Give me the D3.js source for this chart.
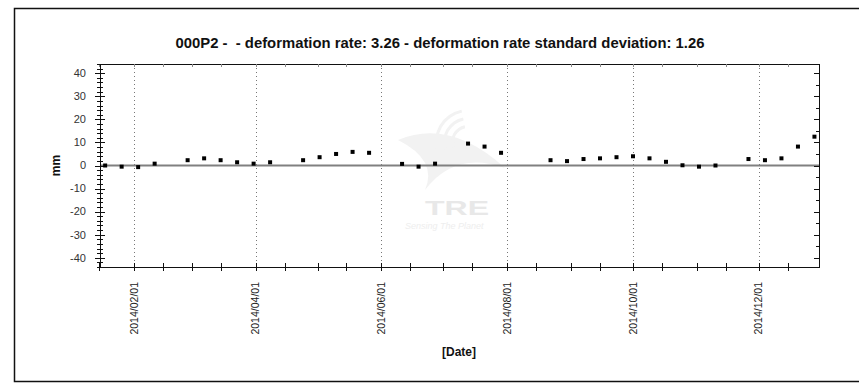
<!DOCTYPE html>
<html>
<head>
<meta charset="utf-8">
<script src="https://cdn.jsdelivr.net/npm/d3@7"></script>
<style>
  body { margin: 0; background: #fff; }
  svg { display: block; font-family: "Liberation Sans", Arial, sans-serif; }
  .title { white-space: pre; }
</style>
</head>
<body>
<svg id="chart" width="859" height="383"></svg>
<script>
// Data
var dates = ["2014-01-18","2014-01-26","2014-02-03","2014-02-11","2014-02-27","2014-03-07",
	"2014-03-15","2014-03-23","2014-03-31","2014-04-08","2014-04-24","2014-05-02",
	"2014-05-10","2014-05-18","2014-05-26","2014-06-11","2014-06-19","2014-06-27",
	"2014-07-13","2014-07-21","2014-07-29","2014-08-22","2014-08-30","2014-09-07",
	"2014-09-15","2014-09-23","2014-10-01","2014-10-09","2014-10-17","2014-10-25",
	"2014-11-02","2014-11-10","2014-11-26","2014-12-04","2014-12-12","2014-12-20","2014-12-28"];
var values = [0.0, -0.5, -0.7, 0.8, 2.3, 3.1,
	2.3, 1.4, 0.8, 1.4, 2.3, 3.6,
	5.0, 5.9, 5.5, 0.7, -0.5, 0.8,
	9.5, 8.2, 5.5, 2.3, 1.9, 2.8,
	3.1, 3.6, 4.0, 3.1, 1.6, 0.1,
	-0.5, 0.0, 2.8, 2.3, 3.1, 8.2, 12.5];

var majorDates = ["2014-02-01","2014-04-01","2014-06-01","2014-08-01","2014-10-01","2014-12-01"];
var minorDates = ["2014-01-15","2014-02-15","2014-03-01","2014-03-15","2014-04-15","2014-05-01",
	"2014-05-15","2014-06-15","2014-07-01","2014-07-15","2014-08-15","2014-09-01",
	"2014-09-15","2014-10-15","2014-11-01","2014-11-15","2014-12-15"];
var yMajor = [-40, -30, -20, -10, 0, 10, 20, 30, 40];
var yMinor = d3.range(-44, 45, 2);
var yMinorRight = d3.range(-40, 45, 5);

var title = "000P2 -  - deformation rate: 3.26 - deformation rate standard deviation: 1.26";

var parse = d3.utcParse("%Y-%m-%d");
var fmt = d3.utcFormat("%Y/%m/%d");

var svg = d3.select("#chart");

// Frame
svg.append("rect")
	.attr("x", 14.5).attr("y", 8.5)
	.attr("width", 860).attr("height", 373)
	.attr("fill", "none").attr("stroke", "#111").attr("stroke-width", 1.5);

// plot area bounds (not named top/left: window.top is reserved)
var pL = 100, pR = 819, pT = 64, pB = 267;

var x = d3.scaleUtc()
	.domain([new Date(Date.UTC(2014, 0, 15, 12)), new Date(Date.UTC(2014, 11, 30, 5))])
	.range([pL, pR]);
var y = d3.scaleLinear().domain([-44, 44]).range([pB, pT]);

// Watermark (TRE logo, approximate)
var wm = svg.append("g").attr("fill", "#f2f2f2").attr("stroke", "none");
wm.append("path")
	.attr("d", "M398,140 Q450,118 505,168 Q455,150 425,190 Q438,160 398,140 Z");
[14, 22, 30].forEach(function(r) {
	wm.append("path")
		.attr("d", d3.arc()({ innerRadius: r, outerRadius: r + 3, startAngle: -1.9, endAngle: -0.2 }))
		.attr("transform", "translate(" + 468 + "," + 142 + ")");
});
wm.append("text")
	.attr("x", 425).attr("y", 215)
	.attr("font-size", 21).attr("font-weight", "bold")
	.attr("fill", "#e8e8e8")
	.attr("textLength", 64).attr("lengthAdjust", "spacingAndGlyphs")
	.text("TRE");
wm.append("text")
	.attr("x", 405).attr("y", 229)
	.attr("font-size", 9).attr("font-style", "italic")
	.attr("fill", "#eeeeee")
	.text("Sensing The Planet");

// Dotted vertical grid at major dates
svg.append("g").selectAll("line")
	.data(majorDates).enter()
	.append("line")
	.attr("x1", function(d) { return Math.round(x(parse(d))) + 0.5; })
	.attr("x2", function(d) { return Math.round(x(parse(d))) + 0.5; })
	.attr("y1", pT).attr("y2", pB)
	.attr("stroke", "#777").attr("stroke-width", 1)
	.attr("stroke-dasharray", "1,3");

// Zero line
svg.append("line")
	.attr("x1", pL).attr("x2", pR)
	.attr("y1", y(0)).attr("y2", y(0))
	.attr("stroke", "#808080").attr("stroke-width", 2);

// Plot box
svg.append("rect")
	.attr("x", pL + 0.5).attr("y", pT + 0.5)
	.attr("width", pR - pL).attr("height", pB - pT)
	.attr("fill", "none").attr("stroke", "#111").attr("stroke-width", 1);

// X ticks (bottom, both sides) and mirrored ticks at top
var xt = svg.append("g").attr("stroke", "#111").attr("stroke-width", 1);
majorDates.concat(minorDates).forEach(function(d) {
	var px = Math.round(x(parse(d))) + 0.5;
	xt.append("line").attr("x1", px).attr("x2", px).attr("y1", pB - 4).attr("y2", pB + 4);
	xt.append("line").attr("x1", px).attr("x2", px).attr("y1", pT).attr("y2", pT + 3)
		.attr("stroke", "#888");
});

// X tick labels, rotated
svg.append("g").selectAll("text")
	.data(majorDates).enter()
	.append("text")
	.attr("transform", function(d) {
		return "translate(" + x(parse(d)) + "," + (pB + 15) + ") rotate(-90)";
	})
	.attr("text-anchor", "end")
	.attr("dy", "0.35em")
	.attr("font-size", 10.5)
	.attr("fill", "#222")
	.text(function(d) { return fmt(parse(d)); });

// Y ticks left
var yt = svg.append("g").attr("stroke", "#111").attr("stroke-width", 1);
yMinor.forEach(function(v) {
	var py = Math.round(y(v)) + 0.5;
	yt.append("line").attr("x1", pL - 3).attr("x2", pL + 3).attr("y1", py).attr("y2", py);
});
yMajor.forEach(function(v) {
	var py = Math.round(y(v)) + 0.5;
	yt.append("line").attr("x1", pL - 5).attr("x2", pL + 5).attr("y1", py).attr("y2", py);
});
// Y ticks right (inside)
yMinorRight.forEach(function(v) {
	var py = Math.round(y(v)) + 0.5;
	var len = (v % 10 == 0) ? 5 : 3;
	yt.append("line").attr("x1", pR - len).attr("x2", pR).attr("y1", py).attr("y2", py);
});

// Y tick labels
svg.append("g").selectAll("text")
	.data(yMajor).enter()
	.append("text")
	.attr("x", pL - 14)
	.attr("y", function(d) { return y(d); })
	.attr("dy", "0.35em")
	.attr("text-anchor", "end")
	.attr("font-size", 11)
	.attr("fill", "#333")
	.text(function(d) { return d; });

// Points
svg.append("g").selectAll("rect")
	.data(dates).enter()
	.append("rect")
	.attr("x", function(d) { return x(parse(d)) - 2; })
	.attr("y", function(d, i) { return y(values[i]) - 2; })
	.attr("width", 4).attr("height", 4)
	.attr("fill", "#000");

// Title and axis titles
svg.append("text")
	.attr("class", "title")
	.attr("x", 440).attr("y", 48)
	.attr("text-anchor", "middle")
	.attr("font-size", 14).attr("font-weight", "bold")
	.attr("fill", "#111")
	.attr("textLength", 529).attr("lengthAdjust", "spacingAndGlyphs")
	.text(title);

svg.append("text")
	.attr("transform", "translate(60," + y(0) + ") rotate(-90)")
	.attr("text-anchor", "middle")
	.attr("font-size", 12).attr("font-weight", "bold")
	.attr("fill", "#111")
	.text("mm");

svg.append("text")
	.attr("x", 459).attr("y", 356)
	.attr("text-anchor", "middle")
	.attr("font-size", 12).attr("font-weight", "bold")
	.attr("fill", "#111")
	.text("[Date]");
</script>
</body>
</html>
